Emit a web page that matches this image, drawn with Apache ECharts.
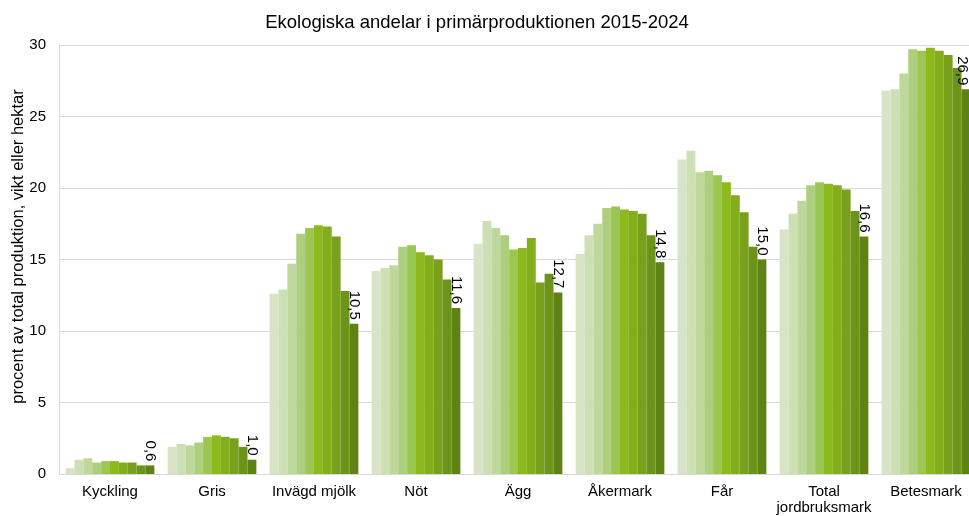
<!DOCTYPE html>
<html>
<head>
<meta charset="utf-8">
<script src="https://cdn.jsdelivr.net/npm/echarts@6/dist/echarts.min.js"></script>
<style>
  html, body { margin: 0; padding: 0; background: #fff; }
  #main { width: 969px; height: 516px; }
</style>
</head>
<body>
<div id="main"></div>
<script>
// categories on the x axis
const categories = ['Kyckling', 'Gris', 'Invägd mjölk', 'Nöt', 'Ägg', 'Åkermark', 'Får', 'Total\njordbruksmark', 'Betesmark']
const years = ['2015', '2016', '2017', '2018', '2019', '2020', '2021', '2022', '2023', '2024']
const yTicks = [0, 5, 10, 15, 20, 25, 30]

// one array per year (procent)
const y2015 = [0.4, 1.9, 12.6, 14.2, 16.1, 15.4, 22.0, 17.1, 26.8]
const y2016 = [1.0, 2.1, 12.9, 14.4, 17.7, 16.7, 22.6, 18.2, 26.9]
const y2017 = [1.1, 2.0, 14.7, 14.6, 17.2, 17.5, 21.1, 19.1, 28.0]
const y2018 = [0.8, 2.2, 16.8, 15.9, 16.7, 18.6, 21.2, 20.2, 29.7]
const y2019 = [0.9, 2.6, 17.2, 16.0, 15.7, 18.7, 20.9, 20.4, 29.6]
const y2020 = [0.9, 2.7, 17.4, 15.5, 15.8, 18.5, 20.4, 20.3, 29.8]
const y2021 = [0.8, 2.6, 17.3, 15.3, 16.5, 18.4, 19.5, 20.2, 29.6]
const y2022 = [0.8, 2.5, 16.6, 15.0, 13.4, 18.2, 18.3, 19.9, 29.3]
const y2023 = [0.6, 1.9, 12.8, 13.6, 14.0, 16.7, 15.9, 18.4, 28.4]
const y2024 = [0.6, 1.0, 10.5, 11.6, 12.7, 14.8, 15.0, 16.6, 26.9]

const yearData = [y2015, y2016, y2017, y2018, y2019, y2020, y2021, y2022, y2023, y2024]
const colors = ['#d9e4c6', '#cde0b4', '#bed89b', '#acce7d', '#9cc652', '#8cba1c', '#84ad1b', '#78a01a', '#6c9418', '#5f8214']

let chart = echarts.init(document.getElementById('main'))
let series = years.map((yr, i) => {
  let s = {
    name: yr,
    type: 'bar',
    data: yearData[i],
    barGap: '0%',
    barCategoryGap: '13%',
    itemStyle: { color: colors[i] }
  }
  // only the last year gets value labels
  if (i === years.length - 1) {
    // last label sits at the clipped right edge, nudge it in a bit
    s.data = yearData[i].map((v, j) => j === yearData[i].length - 1 ? { value: v, label: { offset: [0, 4] } } : v)
    s.label = {
      show: true,
      position: 'top',
      rotate: -90,
      align: 'right',
      verticalAlign: 'middle',
      distance: 4,
      color: '#000',
      fontFamily: 'Liberation Sans',
      fontSize: 15,
      formatter: p => p.value.toFixed(1).replace('.', ',')
    }
  }
  return s
})

let option = {
  animation: false,
  textStyle: { fontFamily: 'Liberation Sans' },
  title: {
    text: 'Ekologiska andelar i primärproduktionen 2015-2024',
    left: 472,
    textAlign: 'center',
    top: 8,
    textStyle: { fontFamily: 'Liberation Sans', fontSize: 18.5, fontWeight: 'normal', color: '#000' }
  },
  grid: { left: 59, right: -8, top: 45, bottom: 42, outerBoundsMode: 'none' },
  xAxis: {
    type: 'category',
    data: categories,
    axisLine: { lineStyle: { color: '#d9d9d9' } },
    axisTick: { show: false },
    axisLabel: { color: '#000', fontSize: 15, margin: 10, lineHeight: 16, interval: 0 }
  },
  yAxis: {
    type: 'value',
    min: 0,
    max: yTicks[yTicks.length - 1],
    interval: yTicks[1] - yTicks[0],
    name: 'procent av total produktion, vikt eller hektar',
    nameLocation: 'middle',
    nameGap: 32,
    nameMoveOverlap: false,
    nameTextStyle: { color: '#000', fontSize: 16.5, padding: [0, 0, 0, 26] },
    axisLine: { show: true, lineStyle: { color: '#d9d9d9' } },
    axisTick: { show: false },
    axisLabel: { color: '#000', fontSize: 15, margin: 13 },
    splitLine: { lineStyle: { color: '#d9d9d9' } }
  },
  series: series
}
chart.setOption(option)
</script>
</body>
</html>
